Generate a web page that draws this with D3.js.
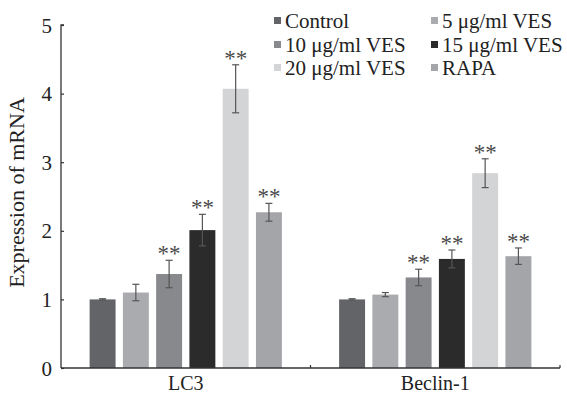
<!DOCTYPE html>
<html><head><meta charset="utf-8">
<script src="https://cdn.jsdelivr.net/npm/d3@7"></script>
<style>body{margin:0;background:#fff}svg{display:block}text{font-family:"Liberation Serif","Times New Roman",serif;fill:#222}</style>
</head><body><svg id="c" width="567" height="394"></svg>
<script>
const categories = ["LC3", "Beclin-1"];
const seriesNames = ["Control", "5 μg/ml VES", "10 μg/ml VES", "15 μg/ml VES", "20 μg/ml VES", "RAPA"];
const seriesColors = ["#636467", "#aaabae", "#88898c", "#2b2b2c", "#d3d4d6", "#a4a5a8"];
const lc3Values = [1.00, 1.10, 1.37, 2.01, 4.07, 2.27];
const lc3Errors = [0.01, 0.12, 0.20, 0.23, 0.35, 0.13];
const lc3Sig = [false, false, true, true, true, true];
const beclinValues = [1.00, 1.07, 1.32, 1.59, 2.84, 1.63];
const beclinErrors = [0.01, 0.03, 0.12, 0.13, 0.21, 0.12];
const beclinSig = [false, false, true, true, true, true];
const yTicks = [0, 1, 2, 3, 4, 5];

const values = [lc3Values, beclinValues];
const errors = [lc3Errors, beclinErrors];
const sigs = [lc3Sig, beclinSig];

const svg = d3.select("#c");
const m = {l: 61, r: 7, t: 25, b: 26};
const W = 567, H = 394;
const x0 = d3.scaleBand().domain(categories).range([m.l, W - m.r]).paddingInner(0).paddingOuter(0);
const x1 = d3.scaleBand().domain(d3.range(seriesNames.length)).range([0, x0.bandwidth()]).paddingInner(0.22).paddingOuter(0.86);
const y = d3.scaleLinear().domain([0, 5]).range([H - m.b, m.t]);

const g = svg.append("g");
categories.forEach((c, ci) => {
  const gg = g.append("g").attr("transform", `translate(${x0(c)},0)`);
  seriesNames.forEach((s, si) => {
    const v = values[ci][si], e = errors[ci][si];
    const bx = x1(si), bw = x1.bandwidth(), cx = bx + bw / 2;
    gg.append("rect").attr("x", bx).attr("y", y(v)).attr("width", bw).attr("height", y(0) - y(v)).attr("fill", seriesColors[si]);
    const ec = "#555";
    gg.append("line").attr("x1", cx).attr("x2", cx).attr("y1", y(v + e)).attr("y2", y(v - e)).attr("stroke", ec).attr("stroke-width", 1.2);
    [v + e, v - e].forEach(t => gg.append("line").attr("x1", cx - 3.5).attr("x2", cx + 3.5).attr("y1", y(t)).attr("y2", y(t)).attr("stroke", ec).attr("stroke-width", 1.2));
    if (sigs[ci][si]) {
      gg.append("text").attr("x", cx).attr("y", y(v + e) + 1).attr("text-anchor", "middle").attr("font-size", 23).style("fill", "#4a4a4a").text("**");
    }
  });
});

// Y axis
const ya = svg.append("g").attr("transform", `translate(${m.l},0)`)
  .call(d3.axisRight(y).tickValues(yTicks).tickSize(3).tickFormat(d3.format("d")));
ya.select(".domain").attr("stroke", "#333").attr("stroke-width", 1.3).attr("d", `M3,${y(5)}H0V${y(0)}`);
ya.selectAll(".tick line").attr("stroke", "#333").attr("stroke-width", 1.2);
ya.selectAll(".tick text").attr("x", -9).attr("text-anchor", "end").attr("dy", "0.34em").attr("font-size", 21).style("fill", "#222").attr("font-family", null);

// X axis
const xa = svg.append("g").attr("transform", `translate(0,${y(0)})`);
xa.append("line").attr("x1", m.l).attr("x2", W - m.r).attr("y1", 0).attr("y2", 0).attr("stroke", "#333").attr("stroke-width", 1.3);
[x0(categories[1]), W - m.r].forEach(px => xa.append("line").attr("x1", px).attr("x2", px).attr("y1", 0).attr("y2", -3).attr("stroke", "#333").attr("stroke-width", 1.2));
categories.forEach(c => xa.append("text").attr("x", x0(c) + x0.bandwidth() / 2).attr("y", 22).attr("text-anchor", "middle").attr("font-size", 20).text(c));

// Y label
svg.append("text").attr("transform", `translate(24,${(y(0) + y(5)) / 2 - 4}) rotate(-90)`).attr("text-anchor", "middle").attr("font-size", 22).text("Expression of mRNA");

// Legend
const legX = [274, 431], legY = [28, 52, 75];
seriesNames.forEach((s, i) => {
  const col = i % 2, row = Math.floor(i / 2);
  const lg = svg.append("g").attr("transform", `translate(${legX[col]},${legY[row]})`);
  lg.append("rect").attr("x", 0).attr("y", -11).attr("width", 7).attr("height", 7).attr("fill", seriesColors[i]);
  lg.append("text").attr("x", 11).attr("y", 0).attr("font-size", 21).text(s);
});
</script></body></html>
